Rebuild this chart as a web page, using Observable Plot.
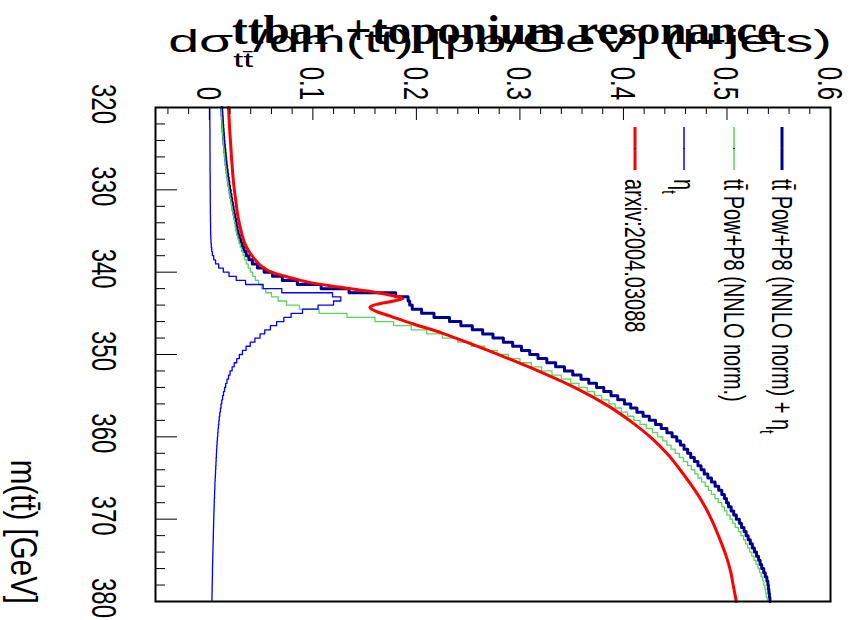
<!DOCTYPE html>
<html><head><meta charset="utf-8">
<script src="https://cdn.jsdelivr.net/npm/d3@7"></script>
<script src="https://cdn.jsdelivr.net/npm/@observablehq/plot@0.6"></script>
<style>
body{margin:0;background:#fff;}
#chart{position:relative;width:850px;height:620px;overflow:hidden;}
</style>
</head><body><div id="chart"></div>
<script>
// ---- data ----
const binStart = 320;
const binWidth = 0.5;
// tt Pow+P8 (NNLO norm) + eta_t  (navy)
const totalValues = [
0.0120,0.0122,0.0125,0.0127,0.0130,0.0133,0.0136,0.0139,0.0142,0.0146,
0.0150,0.0154,0.0158,0.0162,0.0167,0.0172,0.0177,0.0183,0.0189,0.0195,
0.0202,0.0209,0.0216,0.0223,0.0230,0.0238,0.0245,0.0253,0.0261,0.0269,
0.0278,0.0290,0.0303,0.0318,0.0336,0.0356,0.0382,0.0416,0.0465,0.0530,
0.0610,0.0705,0.0850,0.1080,0.1350,0.1800,0.1920,0.1935,0.1960,0.2050,
0.2170,0.2320,0.2430,0.2540,0.2640,0.2740,0.2840,0.2930,0.3015,0.3095,
0.3175,0.3260,0.3345,0.3430,0.3510,0.3590,0.3665,0.3740,0.3810,0.3880,
0.3945,0.4010,0.4070,0.4130,0.4190,0.4250,0.4310,0.4365,0.4420,0.4470,
0.4515,0.4550,0.4585,0.4620,0.4650,0.4685,0.4720,0.4750,0.4780,0.4815,
0.4850,0.4885,0.4920,0.4950,0.4975,0.4995,0.5015,0.5040,0.5065,0.5090,
0.5120,0.5140,0.5165,0.5185,0.5205,0.5225,0.5245,0.5265,0.5285,0.5305,
0.5320,0.5335,0.5355,0.5370,0.5385,0.5395,0.5400,0.5405,0.5410,0.5415];
// tt Pow+P8 (NNLO norm.)  (green)
const ttValues = [
0.0114,0.0116,0.0119,0.0121,0.0124,0.0127,0.0130,0.0133,0.0136,0.0139,
0.0143,0.0147,0.0151,0.0155,0.0159,0.0164,0.0169,0.0175,0.0181,0.0187,
0.0193,0.0200,0.0207,0.0214,0.0221,0.0228,0.0235,0.0242,0.0250,0.0257,
0.0265,0.0276,0.0287,0.0299,0.0312,0.0326,0.0340,0.0356,0.0375,0.0395,
0.0418,0.0445,0.0475,0.0506,0.0545,0.0600,0.0665,0.0745,0.0870,0.1060,
0.1330,0.1600,0.1780,0.1950,0.2100,0.2250,0.2400,0.2530,0.2660,0.2780,
0.2890,0.3000,0.3110,0.3210,0.3310,0.3400,0.3490,0.3570,0.3650,0.3720,
0.3790,0.3860,0.3920,0.3980,0.4040,0.4100,0.4160,0.4220,0.4280,0.4330,
0.4380,0.4420,0.4460,0.4500,0.4540,0.4580,0.4620,0.4655,0.4690,0.4720,
0.4755,0.4790,0.4820,0.4850,0.4885,0.4915,0.4950,0.4975,0.5000,0.5030,
0.5055,0.5080,0.5110,0.5135,0.5160,0.5180,0.5200,0.5220,0.5240,0.5260,
0.5280,0.5300,0.5315,0.5330,0.5345,0.5355,0.5365,0.5375,0.5380,0.5390];
// eta_t  (blue)
const etaValues = [
0.0005,0.0005,0.0005,0.0005,0.0005,0.0006,0.0006,0.0006,0.0006,0.0006,
0.0006,0.0007,0.0007,0.0007,0.0007,0.0007,0.0008,0.0008,0.0008,0.0008,
0.0009,0.0009,0.0009,0.0010,0.0010,0.0010,0.0011,0.0011,0.0012,0.0012,
0.0013,0.0014,0.0016,0.0019,0.0023,0.0030,0.0042,0.0060,0.0090,0.0135,
0.0190,0.0260,0.0350,0.0520,0.0700,0.1190,0.1270,0.1200,0.1050,0.0900,
0.0790,0.0720,0.0650,0.0590,0.0535,0.0490,0.0440,0.0395,0.0355,0.0320,
0.0290,0.0265,0.0240,0.0220,0.0200,0.0185,0.0170,0.0158,0.0147,0.0137,
0.0128,0.0120,0.0113,0.0107,0.0101,0.0096,0.0092,0.0088,0.0084,0.0081,
0.0078,0.0075,0.0072,0.0070,0.0068,0.0066,0.0064,0.0062,0.0060,0.0058,
0.0056,0.0054,0.0053,0.0051,0.0050,0.0048,0.0047,0.0046,0.0044,0.0043,
0.0042,0.0041,0.0040,0.0039,0.0038,0.0037,0.0036,0.0035,0.0034,0.0033,
0.0032,0.0031,0.0030,0.0030,0.0029,0.0028,0.0027,0.0027,0.0026,0.0025];
// arxiv:2004.03088 (red curve)
const arxivMass = [320,323,326,329,331.3,333.5,335.3,336.5,337.3,338.3,339.3,340,340.5,341,341.3,341.8,342.3,342.8,343.2,343.5,343.9,344.25,344.7,345.4,346.3,347.4,348.2,350.2,352.2,354.2,356.3,358.3,360.3,362.3,364.3,366.3,368.3,370.3,372.4,374.4,376.4,378,380];
const arxivValues = [0.0185,0.0198,0.0214,0.0233,0.0255,0.0280,0.0313,0.0342,0.0375,0.0430,0.0506,0.0600,0.0730,0.0880,0.0988,0.1250,0.1530,0.1750,0.1870,0.1780,0.1620,0.1550,0.1600,0.1760,0.1970,0.2250,0.2420,0.2830,0.3214,0.3560,0.3860,0.4090,0.4285,0.4440,0.4565,0.4680,0.4780,0.4860,0.4930,0.4990,0.5036,0.5060,0.5090];

const valueTicks = [0,0.1,0.2,0.3,0.4,0.5,0.6];
const valueTickLabels = ["0","0.1","0.2","0.3","0.4","0.5","0.6"];
const valueMinorTicks = [-0.04,-0.02,0.02,0.04,0.06,0.08,0.12,0.14,0.16,0.18,0.22,0.24,0.26,0.28,0.32,0.34,0.36,0.38,0.42,0.44,0.46,0.48,0.52,0.54,0.56,0.58];
const massTicks = [320,330,340,350,360,370,380];
const massTickLabels = ["320","330","340","350","360","370","380"];
const massMinorTicks = [322,324,326,328,332,334,336,338,342,344,346,348,352,354,356,358,362,364,366,368,372,374,376,378];

const legendLabels = ["tt\u0304 Pow+P8 (NNLO norm) + \u03b7", "tt\u0304 Pow+P8 (NNLO norm.)", "\u03b7", "arxiv:2004.03088"];
const legendSubs = ["t", "", "t", ""];
const legendColors = ["#000090", "#5ad65a", "#0000ff", "#ff0000"];
const legendWidths = [3, 1.5, 1.5, 3];

const titleText = "ttbar +toponium resonance";
const xTitle = "m(tt\u0304) [GeV]";

// ---- build ----
function steps(values) {
  return values.flatMap((v, i) => [
    {m: binStart + i * binWidth, v},
    {m: binStart + (i + 1) * binWidth, v}
  ]);
}
const arxiv = arxivMass.map((m, i) => ({m, v: arxivValues[i]}));

const plot = Plot.plot({
  width: 850, height: 620,
  marginLeft: 155, marginRight: 20, marginTop: 107, marginBottom: 19,
  x: {domain: [-0.052, 0.6], axis: null, label: null},
  y: {domain: [320, 380], reverse: true, axis: null, label: null},
  style: {background: "white", fontFamily: "Liberation Sans, Arial, sans-serif", overflow: "visible"},
  marks: [
    Plot.line(steps(totalValues), {x: "v", y: "m", stroke: legendColors[0], strokeWidth: 3}),
    Plot.line(steps(ttValues), {x: "v", y: "m", stroke: legendColors[1], strokeWidth: 1.3}),
    Plot.line(steps(etaValues), {x: "v", y: "m", stroke: legendColors[2], strokeWidth: 1.3}),
    Plot.line(arxiv, {x: "v", y: "m", stroke: legendColors[3], strokeWidth: 3, curve: "monotone-y"}),
    Plot.axisX({anchor: "top", ticks: valueMinorTicks, tickSize: -6, tickFormat: () => "", label: null, stroke: "black"}),
    Plot.axisX({anchor: "top", ticks: valueTicks, tickSize: -12, tickFormat: () => "", label: null, stroke: "black"}),
    Plot.axisY({anchor: "left", ticks: massMinorTicks, tickSize: -10, tickFormat: () => "", label: null, stroke: "black"}),
    Plot.axisY({anchor: "left", ticks: massTicks, tickSize: -22, tickFormat: () => "", label: null, stroke: "black"}),
    Plot.frame({stroke: "black", strokeWidth: 2})
  ]
});
document.getElementById("chart").appendChild(plot);

const svg = d3.select(plot);
const xs = plot.scale("x"), ys = plot.scale("y");
const FONT = "Liberation Sans, Arial, sans-serif";

// tick labels, rotated and stretched like the reference
const labG = svg.append("g").attr("font-family", FONT).attr("fill", "black");
valueTicks.forEach((v, i) => {
  labG.append("text").attr("text-anchor", "end").attr("dy", "0.35em").attr("font-size", 24)
    .attr("transform", `translate(${xs.apply(v)},100) rotate(90) scale(1,1.45)`)
    .text(valueTickLabels[i]);
});
massTicks.forEach((m, i) => {
  labG.append("text").attr("text-anchor", "middle").attr("dy", "0.35em").attr("font-size", 24)
    .attr("transform", `translate(104,${ys.apply(m) - 3}) rotate(90) scale(1,1.45)`)
    .text(massTickLabels[i]);
});

function fitX(sel, cx, cy, target) {
  const len = sel.node().getComputedTextLength();
  sel.attr("transform", `translate(${cx},${cy}) scale(${target / len},1)`);
}

// y-axis title (drawn upright at the top)
const yt = svg.append("text").attr("x", 0).attr("y", 0).attr("text-anchor", "middle")
  .attr("font-family", FONT).attr("font-size", 31).attr("fill", "black");
yt.append("tspan").text("d\u03c3");
yt.append("tspan").attr("font-size", 20).attr("dy", 15).text("tt\u0304");
yt.append("tspan").attr("dy", -15).text("/dm(tt\u0304) [pb/GeV] (l+jets)");
fitX(yt, 500, 52, 664);

// title
const tt = svg.append("text").attr("x", 0).attr("y", 0).attr("text-anchor", "middle")
  .attr("font-family", "Liberation Serif, Times New Roman, serif").attr("font-weight", "bold")
  .attr("font-size", 42).attr("fill", "black").text(titleText);
fitX(tt, 505, 44, 546);

// x-axis title (rotated)
svg.append("text").attr("text-anchor", "end")
  .attr("font-family", FONT).attr("font-size", 29.5).attr("fill", "black")
  .attr("dy", "0.32em")
  .attr("transform", "translate(23,604) rotate(90) scale(1,1.25)")
  .text(xTitle);

// legend
const lx = [782, 734, 684, 635];
legendLabels.forEach((lab, i) => {
  const g = svg.append("g");
  g.append("line").attr("x1", lx[i]).attr("x2", lx[i]).attr("y1", 127).attr("y2", 170)
    .attr("stroke", legendColors[i]).attr("stroke-width", legendWidths[i]);
  g.append("line").attr("x1", lx[i] - 1).attr("x2", lx[i] + 1).attr("y1", 148.5).attr("y2", 148.5)
    .attr("stroke", "#222").attr("stroke-width", 1);
  const t = g.append("text").attr("text-anchor", "start").attr("dy", "0.32em")
    .attr("font-family", FONT).attr("font-size", 20).attr("fill", "black")
    .attr("transform", `translate(${lx[i]},179) rotate(90) scale(1,1.5)`);
  t.append("tspan").text(lab);
  if (legendSubs[i]) t.append("tspan").attr("font-size", 13).attr("dy", 8).text(legendSubs[i]);
});
</script>
</body></html>
